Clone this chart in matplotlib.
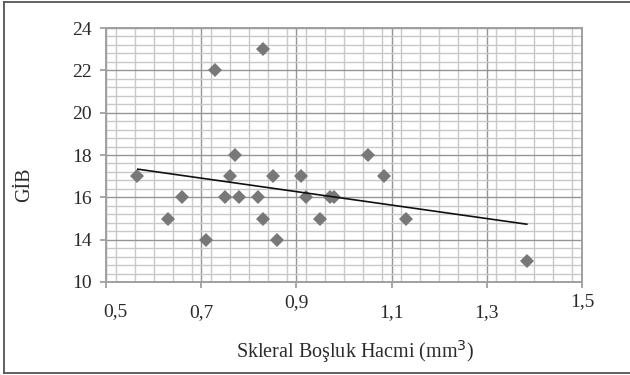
import matplotlib
matplotlib.use("Agg")
import matplotlib.pyplot as plt
from matplotlib.lines import Line2D
from matplotlib.ticker import MultipleLocator
import matplotlib.transforms as mtransforms

# ---- data ----
volume = [0.565, 0.63, 0.66, 0.71, 0.73, 0.75, 0.76, 0.77, 0.78, 0.82, 0.83, 0.83,
          0.85, 0.86, 0.91, 0.92, 0.95, 0.97, 0.98, 1.05, 1.085, 1.13, 1.385]
gib = [17, 15, 16, 14, 22, 16, 17, 18, 16, 16, 15, 23,
       17, 14, 17, 16, 15, 16, 16, 18, 17, 15, 13]
trend_x = [0.567, 1.384]
trend_y = [17.33, 14.73]

x_ticks = [0.5, 0.7, 0.9, 1.1, 1.3, 1.5]
x_tick_labels = ["0,5", "0,7", "0,9", "1,1", "1,3", "1,5"]
x_label_drop = [30, 31, 21, 31, 31, 20]   # px below axis
y_ticks = [12, 14, 16, 18, 20, 22, 24]
y_tick_labels = ["10", "14", "16", "18", "20", "22", "24"]

FONT = "Liberation Serif"
TXT = "#2a2a2a"
W, H = 630, 375
fig = plt.figure(figsize=(W / 100, H / 100), dpi=100)
ax = fig.add_axes([106 / W, 1 - 282 / H, 476 / W, 254 / H])

# frame around figure (open on the right edge, as in the reference)
frame_kw = dict(transform=fig.transFigure, color="#555555", linewidth=1.3)
fig.add_artist(Line2D([4 / W, 1], [1 - 1.5 / H, 1 - 1.5 / H], **frame_kw))
fig.add_artist(Line2D([4 / W, 1], [1 - 372.5 / H, 1 - 372.5 / H], **frame_kw))
fig.add_artist(Line2D([4 / W, 4 / W], [1 - 1.5 / H, 1 - 372.5 / H], **frame_kw))

ax.set_xlim(0.5, 1.5)
ax.set_ylim(12, 24)
ax.xaxis.set_major_locator(MultipleLocator(0.2))
ax.xaxis.set_minor_locator(MultipleLocator(0.04))
ax.yaxis.set_major_locator(MultipleLocator(2))
ax.yaxis.set_minor_locator(MultipleLocator(0.4))

ax.grid(which="minor", color="#c8c8c8", linewidth=1.0)
ax.grid(which="major", color="#959595", linewidth=1.0)
ax.set_axisbelow(True)

for s in ax.spines.values():
    s.set_color("#a0a0a0")
    s.set_linewidth(1.4)

ax.set_yticks(y_ticks)
ax.set_yticklabels(y_tick_labels, fontfamily=FONT, fontsize=14, color=TXT)
ax.set_xticks(x_ticks)
ax.set_xticklabels([])
ax.tick_params(axis="both", which="major", length=4.5, color="#a0a0a0", width=1.3)
ax.tick_params(axis="y", pad=5.5)
ax.tick_params(which="minor", length=0)

for xv, lab, drop in zip(x_ticks, x_tick_labels, x_label_drop):
    trans = ax.get_xaxis_transform() + mtransforms.ScaledTranslation(0, -drop / 100, fig.dpi_scale_trans)
    ax.text(xv + (0.02 if xv == 0.5 else 0.0), 0, lab, transform=trans, ha="center", va="center",
            fontfamily=FONT, fontsize=14, color=TXT)

ax.plot(volume, gib, linestyle="none", marker="D", markersize=7.5,
        color="#787878", markeredgewidth=0, zorder=3)
ax.plot(trend_x, trend_y, color="#111111", linewidth=1.2, zorder=4)

fig.text(355 / W, 1 - 352 / H, "Skleral Boşluk Hacmi (mm$^{3}$)", ha="center", va="center",
         fontfamily=FONT, fontsize=14.5, color=TXT)
fig.text(25 / W, 1 - 185 / H, "GİB", ha="center", va="center", rotation=90,
         fontfamily=FONT, fontsize=14.5, color=TXT)

fig.savefig("out.png", dpi=100)
